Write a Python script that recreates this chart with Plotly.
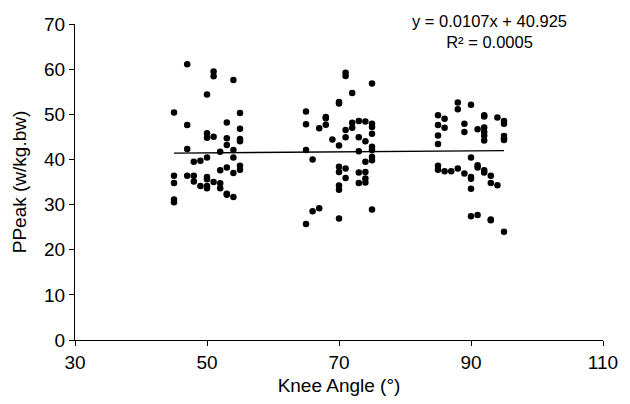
import plotly.graph_objects as go

# Knee angle groups and PPeak values
x45_55 = ([45]*5 + [47]*4 + [48]*3 + [49]*2 + [50]*8 + [51]*4 + [52]*4 + [53]*6 + [54]*5 + [55]*6)
y45_55 = [50.4, 36.4, 34.8, 31.1, 30.5,
          61.1, 47.6, 42.3, 36.4,
          39.5, 36.4, 35.1,
          39.7, 34.1,
          54.4, 45.8, 44.8, 40.4, 36.1, 35.6, 34.1, 33.6,
          59.5, 58.4, 45.0, 35.0,
          41.7, 37.6, 34.7, 33.6,
          48.2, 44.7, 43.2, 38.2, 32.4, 32.2,
          57.6, 42.1, 40.4, 37.0, 31.7,
          50.3, 46.8, 44.5, 44.0, 38.6, 37.7]

x65_75 = ([65]*4 + [66]*2 + [67]*2 + [68]*3 + [69]*1 + [70]*8 + [71]*6 + [72]*3 + [73]*5 + [74]*6 + [75]*9)
y65_75 = [50.6, 47.8, 42.1, 25.7,
          40.0, 28.5,
          46.9, 29.2,
          49.4, 49.1, 47.7,
          44.4,
          52.7, 52.4, 43.1, 38.4, 37.2, 34.2, 33.3, 26.9,
          59.2, 58.5, 46.5, 44.9, 38.0, 35.9,
          54.7, 48.1, 47.0,
          48.5, 44.9, 41.8, 37.1, 34.8,
          48.4, 44.0, 39.5, 37.2, 35.8, 34.9,
          56.8, 47.9, 47.2, 45.7, 42.8, 42.1, 40.6, 39.8, 28.9]

x85_95 = ([85]*6 + [86]*3 + [87]*1 + [88]*3 + [89]*3 + [90]*6 + [91]*4 + [92]*8 + [93]*4 + [94]*2 + [95]*6)
y85_95 = [49.8, 47.6, 45.3, 43.4, 38.6, 37.7,
          49.0, 47.0, 37.4,
          37.4,
          52.6, 51.1, 38.0,
          47.9, 46.1, 36.9,
          52.1, 40.4, 36.1, 35.7, 33.5, 27.4,
          46.7, 38.7, 38.2, 27.7,
          49.8, 49.5, 47.1, 46.1, 45.3, 44.2, 37.6, 37.1,
          36.4, 34.8, 26.7, 26.5,
          49.3, 34.3,
          48.5, 47.9, 45.2, 44.7, 44.3, 24.0]

knee_angle = x45_55 + x65_75 + x85_95
ppeak = y45_55 + y65_75 + y85_95

slope = 0.0107
intercept = 40.925
r_squared = 0.0005

x_ticks = [30, 50, 70, 90, 110]
y_ticks = [0, 10, 20, 30, 40, 50, 60, 70]

font_family = "Arial, Liberation Sans, sans-serif"

fig = go.Figure()
fig.add_trace(go.Scatter(
    x=knee_angle, y=ppeak, mode="markers",
    marker=dict(color="black", size=6.5, line=dict(width=0)),
    showlegend=False, hoverinfo="x+y"))

x_line = [min(knee_angle), max(knee_angle)]
y_line = [slope * v + intercept for v in x_line]
fig.add_trace(go.Scatter(
    x=x_line, y=y_line, mode="lines",
    line=dict(color="black", width=1.3),
    showlegend=False, hoverinfo="skip"))

fig.add_annotation(
    xref="paper", yref="paper", x=0.785, y=1.045,
    xanchor="center", yanchor="top", showarrow=False, align="center",
    text=f"y = {slope}x + {intercept}<br>R² = {r_squared}",
    font=dict(family=font_family, size=16.5, color="black"))

fig.update_layout(
    width=630, height=404,
    margin=dict(l=75, r=19, t=24, b=62),
    paper_bgcolor="white", plot_bgcolor="white",
    font=dict(family=font_family, size=19, color="black"),
    xaxis=dict(
        range=[30, 110], tickvals=x_ticks, ticktext=[str(v) for v in x_ticks],
        showgrid=False, zeroline=False, showline=True, linecolor="black", linewidth=1,
        ticks="outside", ticklen=5, tickcolor="black",
        title=dict(text="Knee Angle (°)", font=dict(size=19), standoff=6),
        tickfont=dict(size=19)),
    yaxis=dict(
        range=[0, 70], tickvals=y_ticks, ticktext=[str(v) for v in y_ticks],
        showgrid=False, zeroline=False, showline=True, linecolor="black", linewidth=1,
        ticks="outside", ticklen=5, tickcolor="black",
        title=dict(text="PPeak (w/kg.bw)", font=dict(size=19), standoff=12),
        tickfont=dict(size=19)),
)

fig.write_html("out.html")
